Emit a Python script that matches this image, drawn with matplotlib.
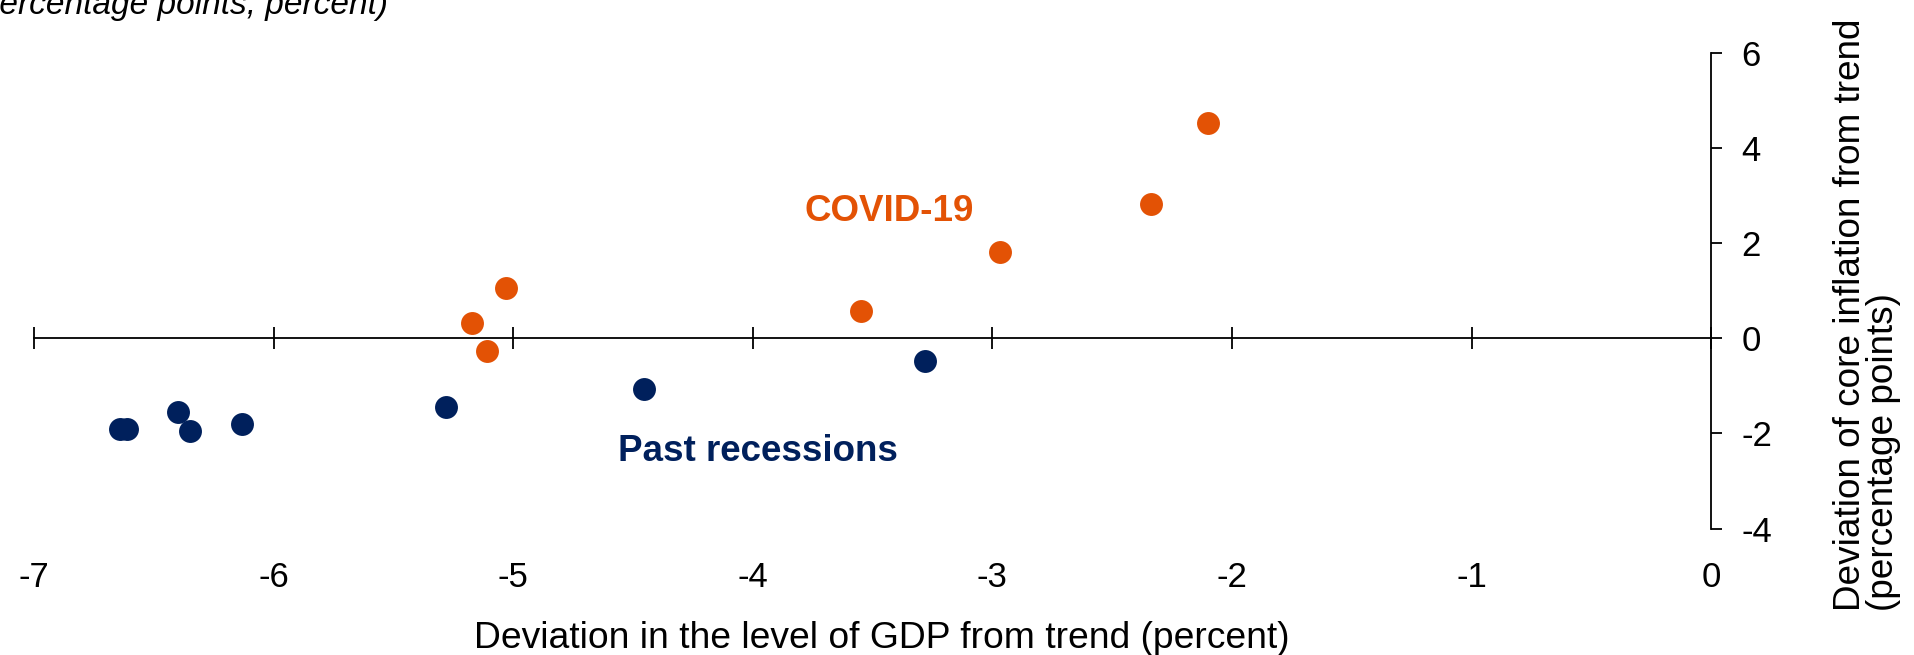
import matplotlib

matplotlib.use("Agg")
import matplotlib.pyplot as plt

plt.rcParams["font.family"] = ["Liberation Sans", "DejaVu Sans"]

# deviation of GDP level from trend (percent) / core inflation (pp)
COVID_X = [-2.10, -2.34, -2.97, -3.55, -5.03, -5.17, -5.11]
COVID_Y = [4.52, 2.81, 1.81, 0.57, 1.05, 0.31, -0.28]
PAST_X = [-3.28, -4.455, -5.28, -6.13, -6.40, -6.35, -6.64, -6.61]
PAST_Y = [-0.48, -1.07, -1.44, -1.80, -1.56, -1.94, -1.91, -1.91]

XTICKS = [-7, -6, -5, -4, -3, -2, -1, 0]
YTICKS = [-4, -2, 0, 2, 4, 6]

ORANGE = "#E35205"
NAVY = "#00205C"

fig = plt.figure(figsize=(19.14, 6.55), dpi=100)
ax = fig.add_axes([0.01776, 0.1930, 0.8763, 0.7268])

ax.plot(PAST_X, PAST_Y, "o", color=NAVY, markersize=16.5, markeredgewidth=0)
ax.plot(COVID_X, COVID_Y, "o", color=ORANGE, markersize=16.5, markeredgewidth=0)

ax.text(-3.43, 2.67, "COVID-19", color=ORANGE, fontsize=26.5,
        fontweight="bold", ha="center", va="center")
ax.text(-3.98, -2.38, "Past recessions", color=NAVY, fontsize=26.5,
        fontweight="bold", ha="center", va="center")

ax.set_xlim(-7, 0)
ax.set_ylim(-4, 6)

ax.spines["top"].set_visible(False)
ax.spines["left"].set_visible(False)
ax.spines["bottom"].set_position(("data", 0))
ax.spines["bottom"].set_linewidth(1.3)
ax.spines["right"].set_linewidth(1.3)

ax.set_xticks(XTICKS)
ax.tick_params(axis="x", direction="inout", length=15.6, width=1.3,
               labelbottom=False)
ax.yaxis.tick_right()
ax.set_yticks(YTICKS)
ax.set_yticklabels([str(t) for t in YTICKS])
ax.tick_params(axis="y", direction="out", length=7.7, width=1.3,
               labelsize=25, pad=14)

# tick labels for x sit along the bottom of the plot, not on the zero line
sec = ax.secondary_xaxis(0)
sec.set_xticks(XTICKS)
sec.set_xticklabels([str(t) for t in XTICKS])
sec.spines["bottom"].set_visible(False)
sec.tick_params(length=0, labelsize=25, pad=23)

fig.text(882 / 1914, 1 - 648 / 655, "Deviation in the level of GDP from trend (percent)",
         fontsize=26.8, ha="center", va="baseline")
fig.text(1867 / 1914, 1 - 611 / 655, "Deviation of core inflation from trend\n(percentage points)",
         fontsize=26.6, rotation=90, ha="center", va="bottom",
         multialignment="left", linespacing=0.92)
fig.text(388 / 1914, 1 - 14 / 655, "(Percentage points, percent)",
         fontsize=24, fontstyle="italic", ha="right", va="baseline")

fig.savefig("out.png", dpi=100)
